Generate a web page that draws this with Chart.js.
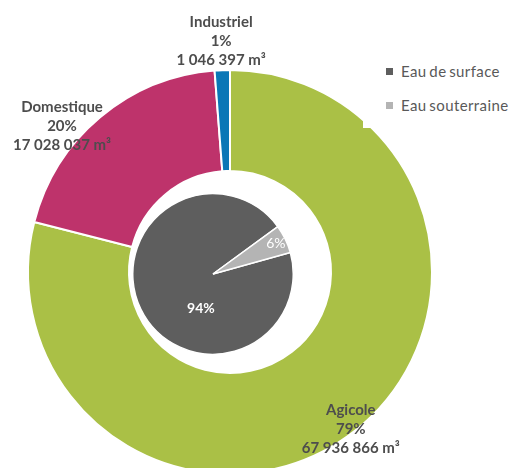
<!DOCTYPE html>
<html>
<head>
<meta charset="utf-8">
<script src="https://cdn.jsdelivr.net/npm/chart.js@4"></script>
<style>
  html, body { margin: 0; padding: 0; background: #fff; }
  body { width: 516px; height: 468px; overflow: hidden; position: relative; font-family: Lato, sans-serif; }
  canvas { position: absolute; }
  #ring { left: 0; top: 0; z-index: 1; }
  #pie { left: 132px; top: 193px; z-index: 2; }
  #legend {
    position: absolute; z-index: 3; background: #fff;
    left: 363px; top: 40px; width: 153px; height: 88px;
    box-sizing: border-box; padding: 22px 0 0 23px;
  }
  .item { height: 34px; font-size: 15px; line-height: 18px; color: #595959; white-space: nowrap; letter-spacing: 0.4px; word-spacing: -1.5px; }
  .item span.box { display: inline-block; width: 7px; height: 7px; margin-right: 8px; vertical-align: 2px; }
</style>
</head>
<body>
<canvas id="ring" width="516" height="480"></canvas>
<canvas id="pie" width="162" height="162"></canvas>
<div id="legend"></div>

<script>
// outer ring: water use by sector (m³)
const sectors = ['Agicole', 'Domestique', 'Industriel'];
const volumes = [67936866, 17028037, 1046397];
const sectorColors = ['#AAC046', '#BE336B', '#0A77B6'];

// inner pie: share by water source (%)
const sources = ['Eau de surface', 'Eau souterraine'];
const shares = [94.3, 5.7];
const sourceColors = ['#5E5E5E', '#B4B4B4'];

// label placement around each ring slice: angle shift (deg) and radius factor
const ringLabelShift = [0, -8.8, 0];
const ringLabelRadius = [0.975, 1.105, 1.15];
const pieLabelShift = [-45, 0];
const pieLabelRadius = [0.46, 0.87];

const fmt = n => String(n).replace(/\B(?=(\d{3})+(?!\d))/g, ' ');

// Commit: labels on the sector ring
const ringLabels = {
  id: 'ringLabels',
  afterDatasetsDraw(chart) {
    const ctx = chart.ctx;
    const total = volumes.reduce((a, b) => a + b, 0);
    ctx.save();
    ctx.font = 'bold 15px Lato';
    ctx.fillStyle = '#4D4D4D';
    ctx.textAlign = 'center';
    ctx.textBaseline = 'middle';
    chart.getDatasetMeta(0).data.forEach((arc, i) => {
      const p = arc.getProps(['x', 'y', 'startAngle', 'endAngle', 'outerRadius'], true);
      const a = (p.startAngle + p.endAngle) / 2 + ringLabelShift[i] * Math.PI / 180;
      const r = p.outerRadius * ringLabelRadius[i];
      const cx = p.x + r * Math.cos(a);
      const cy = p.y + r * Math.sin(a) + 1.5;
      const lines = [sectors[i], Math.round(volumes[i] / total * 100) + '%', fmt(volumes[i]) + ' m³'];
      lines.forEach((t, k) => ctx.fillText(t, cx, cy + (k - 1) * 19));
    });
    ctx.restore();
  }
};

// Commit: labels inside the source pie
const pieLabels = {
  id: 'pieLabels',
  afterDatasetsDraw(chart) {
    const ctx = chart.ctx;
    ctx.save();
    ctx.fillStyle = '#fff';
    ctx.textAlign = 'center';
    ctx.textBaseline = 'middle';
    chart.getDatasetMeta(0).data.forEach((arc, i) => {
      const p = arc.getProps(['x', 'y', 'startAngle', 'endAngle', 'outerRadius'], true);
      const a = (p.startAngle + p.endAngle) / 2 + pieLabelShift[i] * Math.PI / 180;
      const r = p.outerRadius * pieLabelRadius[i];
      ctx.font = i === 0 ? 'bold 14px Lato' : '14px Lato';
      ctx.fillText(Math.round(shares[i]) + '%', p.x + r * Math.cos(a), p.y + r * Math.sin(a));
    });
    ctx.restore();
  }
};

new Chart(document.getElementById('ring'), {
  type: 'doughnut',
  data: {
    labels: sectors,
    datasets: [{
      data: volumes,
      backgroundColor: sectorColors,
      borderColor: '#fff',
      borderWidth: 2,
      hoverOffset: 0
    }]
  },
  options: {
    responsive: false,
    animation: false,
    cutout: '50%',
    layout: { padding: { left: 27, right: 83, top: 69, bottom: 5 } },
    plugins: { legend: { display: false }, tooltip: { enabled: false } }
  },
  plugins: [ringLabels]
});

const pie = new Chart(document.getElementById('pie'), {
  type: 'pie',
  data: {
    labels: sources,
    datasets: [{
      data: shares,
      backgroundColor: sourceColors,
      borderColor: '#fff',
      borderWidth: 1.5,
      hoverOffset: 0
    }]
  },
  options: {
    responsive: false,
    animation: false,
    rotation: 74.4,
    layout: { padding: 0 },
    plugins: { legend: { display: false }, tooltip: { enabled: false } }
  },
  plugins: [pieLabels]
});

// legend built from the pie's own labels / colours
const legend = document.getElementById('legend');
pie.data.labels.forEach((label, i) => {
  legend.innerHTML += `<div class="item"><span class="box" style="background:${sourceColors[i]}"></span>${label}</div>`;
});
</script>
</body>
</html>
